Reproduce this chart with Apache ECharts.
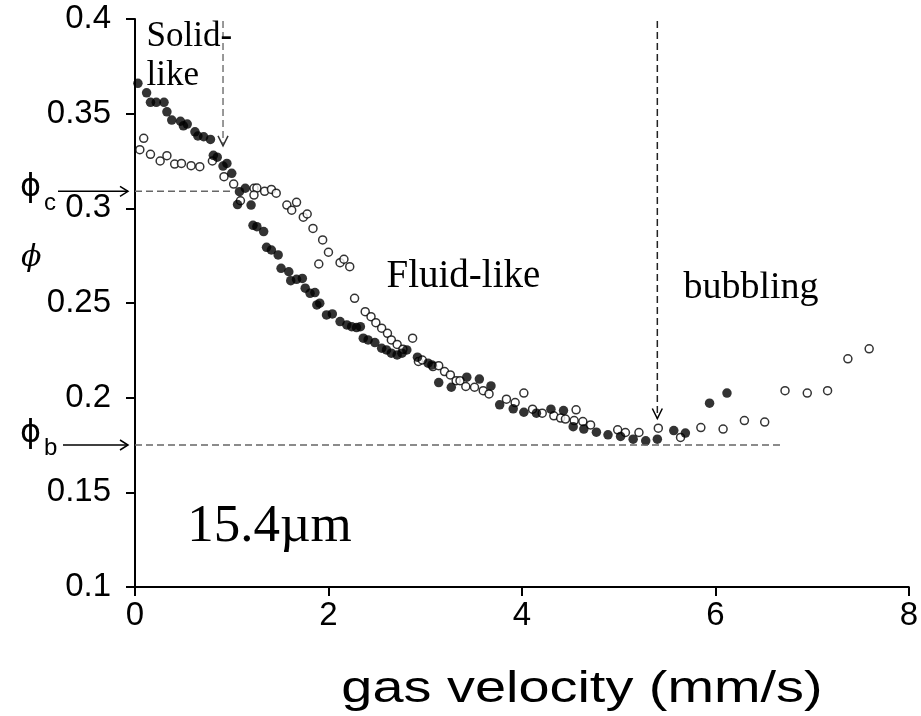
<!DOCTYPE html>
<html><head><meta charset="utf-8">
<script src="https://cdn.jsdelivr.net/npm/echarts/dist/echarts.min.js"></script>
<style>html,body{margin:0;padding:0;background:#fff}#c{width:921px;height:716px}</style>
</head><body><div id="c"></div>
<script>
// ---- data ----
const X_TICKS = [0, 2, 4, 6, 8];
const Y_TICKS = [0.1, 0.15, 0.2, 0.25, 0.3, 0.35, 0.4];

const filledV = [0.03,0.12,0.16,0.22,0.30,0.33,0.38,0.47,0.50,0.54,0.62,0.65,0.71,0.78,0.81,0.85,0.91,0.95,1.00,1.06,1.08,1.14,1.20,1.22,1.26,1.33,1.36,1.41,1.48,1.51,1.59,1.61,1.67,1.73,1.76,1.81,1.86,1.88,1.91,1.98,2.04,2.12,2.19,2.24,2.29,2.33,2.36,2.41,2.48,2.55,2.60,2.65,2.71,2.76,2.81,2.92,3.03,3.07,3.14,3.27,3.43,3.56,3.68,3.77,3.91,4.02,4.15,4.30,4.43,4.53,4.64,4.77,4.89,5.02,5.15,5.28,5.40,5.57,5.69,5.94,6.12];
const filledPhi = [0.366,0.361,0.356,0.356,0.356,0.351,0.3466,0.346,0.3436,0.3445,0.3404,0.3382,0.3378,0.3364,0.328,0.327,0.3223,0.3237,0.3185,0.302,0.3088,0.3106,0.3017,0.291,0.2903,0.2877,0.2794,0.278,0.2754,0.2683,0.2665,0.2618,0.2625,0.263,0.2578,0.2551,0.2555,0.249,0.2499,0.2437,0.2442,0.2402,0.2384,0.2375,0.237,0.2375,0.2314,0.2305,0.2291,0.2261,0.2252,0.2235,0.2226,0.2235,0.2252,0.2214,0.2182,0.2173,0.208,0.2055,0.2108,0.2098,0.2062,0.1962,0.1941,0.1923,0.1918,0.1939,0.1932,0.1847,0.1834,0.1818,0.1804,0.1795,0.1781,0.1772,0.1781,0.1826,0.1813,0.1971,0.2024];

const openV = [0.05,0.09,0.16,0.26,0.33,0.41,0.48,0.58,0.67,0.80,0.92,1.02,1.09,1.23,1.26,1.23,1.34,1.41,1.46,1.57,1.62,1.67,1.74,1.78,1.84,1.90,1.94,2.00,2.12,2.16,2.22,2.27,2.38,2.44,2.49,2.55,2.61,2.65,2.71,2.77,2.87,2.93,2.97,3.08,3.14,3.20,3.26,3.32,3.36,3.42,3.51,3.60,3.66,3.84,3.93,4.02,4.11,4.21,4.33,4.40,4.45,4.54,4.56,4.63,4.71,4.99,5.07,5.21,5.41,5.64,5.85,6.08,6.30,6.51,6.72,6.95,7.16,7.37,7.59];
const openPhi = [0.331,0.337,0.3285,0.325,0.3278,0.3234,0.3237,0.3225,0.322,0.325,0.3167,0.3128,0.304,0.3106,0.3107,0.307,0.309,0.310,0.308,0.3017,0.299,0.3032,0.2953,0.297,0.2894,0.2706,0.2833,0.2768,0.2713,0.2731,0.2692,0.2525,0.2454,0.2428,0.2396,0.2367,0.234,0.2305,0.2281,0.2256,0.2314,0.2191,0.2199,0.2164,0.2169,0.2138,0.212,0.209,0.209,0.2059,0.2055,0.2037,0.202,0.1992,0.1974,0.2024,0.1939,0.1918,0.1904,0.1892,0.1887,0.1879,0.1936,0.1874,0.1856,0.183,0.1816,0.1816,0.1839,0.179,0.1842,0.1834,0.1879,0.1871,0.2037,0.2024,0.2037,0.2205,0.2258];

const PHI_C = 0.309, PHI_C_END = 1.0;
const PHI_B = 0.175, PHI_B_END = 6.69;
const V_SOLID = 0.91, V_SOLID_TIP = 0.333;
const V_BUBBLE = 5.40, V_BUBBLE_TIP = 0.189;
const Y_TOP = 0.399;

const chart = echarts.init(document.getElementById('c'), null, {renderer: 'canvas'});
const SANS = '"Liberation Sans", Arial, Helvetica, sans-serif';
const SERIF = '"Liberation Serif", "Times New Roman", serif';

chart.setOption({
  animation: false,
  backgroundColor: '#fff',
  grid: {left: 135, right: 12, top: 19, bottom: 129, containLabel: false},
  xAxis: {
    type: 'value', min: X_TICKS[0], max: X_TICKS[X_TICKS.length - 1], interval: 2,
    splitLine: {show: false},
    axisLine: {show: true, onZero: false, lineStyle: {color: '#000', width: 2}},
    axisTick: {show: true, length: 9, lineStyle: {color: '#000', width: 2}},
    axisLabel: {color: '#000', fontSize: 33, fontFamily: SANS, margin: 12}
  },
  yAxis: {
    type: 'value', min: Y_TICKS[0], max: Y_TICKS[Y_TICKS.length - 1], interval: 0.05,
    splitLine: {show: false},
    axisLine: {show: true, onZero: false, lineStyle: {color: '#000', width: 2}},
    axisTick: {show: true, length: 9, lineStyle: {color: '#000', width: 2}},
    axisLabel: {color: '#000', fontSize: 33, fontFamily: SANS, margin: 24,
      formatter: v => String(+v.toFixed(2))}
  },
  series: [
    {type: 'scatter', name: 'open', data: openV.map((v, i) => [v, openPhi[i]]),
     symbol: 'circle', symbolSize: 8,
     itemStyle: {color: '#fff', borderColor: '#000', borderWidth: 1.5}},
    {type: 'scatter', name: 'filled', data: filledV.map((v, i) => [v, filledPhi[i]]),
     symbol: 'circle', symbolSize: 9.5,
     itemStyle: {color: '#000'}}
  ]
});

function px(v, p) { return chart.convertToPixel({gridIndex: 0}, [v, p]); }

const g = [];
const dash = {stroke: '#666', lineWidth: 1.5, lineDash: [7, 4]};
let a = px(0, PHI_C), b = px(PHI_C_END, PHI_C);
g.push({type: 'line', shape: {x1: a[0], y1: a[1], x2: b[0], y2: b[1]}, style: dash, z: 5});
a = px(0, PHI_B); b = px(PHI_B_END, PHI_B);
g.push({type: 'line', shape: {x1: a[0], y1: a[1], x2: b[0], y2: b[1]}, style: dash, z: 5});
a = px(V_SOLID, Y_TOP); b = px(V_SOLID, V_SOLID_TIP);
g.push({type: 'line', shape: {x1: a[0], y1: a[1], x2: b[0], y2: b[1]}, style: {stroke: '#777', lineWidth: 1.5, lineDash: [7, 4]}, z: 5});
g.push({type: 'polyline', shape: {points: [[b[0] - 5, b[1] - 10], [b[0], b[1]], [b[0] + 5, b[1] - 10]]}, style: {stroke: '#333', lineWidth: 1.5, fill: null}, z: 5});
a = px(V_BUBBLE, Y_TOP); b = px(V_BUBBLE, V_BUBBLE_TIP);
g.push({type: 'line', shape: {x1: a[0], y1: a[1], x2: b[0], y2: b[1]}, style: {stroke: '#222', lineWidth: 1.5, lineDash: [7, 4]}, z: 5});
g.push({type: 'polyline', shape: {points: [[b[0] - 5, b[1] - 10], [b[0], b[1]], [b[0] + 5, b[1] - 10]]}, style: {stroke: '#000', lineWidth: 1.5, fill: null}, z: 5});

function leftArrow(phi, x0) {
  const y = px(0, phi)[1];
  g.push({type: 'line', shape: {x1: x0, y1: y, x2: 128, y2: y}, style: {stroke: '#000', lineWidth: 1.5}, z: 5});
  g.push({type: 'polyline', shape: {points: [[120, y - 5], [128, y], [120, y + 5]]}, style: {stroke: '#000', lineWidth: 1.5, fill: null}, z: 5});
  return y;
}
const yc = leftArrow(PHI_C, 58);
const yb = leftArrow(PHI_B, 63);
function txt(t, x, y, size, fam, extra, el) {
  g.push(Object.assign({type: 'text', x: x, y: y, z: 6,
    style: Object.assign({text: t, fontSize: size, fontFamily: fam, fill: '#000', align: 'left', verticalAlign: 'middle'}, extra || {})}, el || {}));
}
txt('ϕ', 20, yc - 4, 32, '"DejaVu Sans", sans-serif');
txt('c', 44, yc + 12, 24, SANS);
txt('ϕ', 20, yb - 11, 32, '"DejaVu Sans", sans-serif');
txt('b', 44, yb + 3, 24, SANS);
// y-axis name
txt('ϕ', 21, 258, 30, '"DejaVu Serif", serif', {fontStyle: 'italic'});

let p = px(0.12, 0.37); txt('Solid-', p[0], 37, 35, SERIF);
txt('like', p[0], 76, 35, SERIF);
p = px(2.6, 0.264); txt('Fluid-like', p[0], p[1], 39, SERIF);
p = px(5.67, 0.258); txt('bubbling', p[0], p[1], 38, SERIF);
p = px(0.54, 0.1314); txt('15.4µm', p[0], p[1], 53, SERIF);
// x-axis title
txt('gas velocity (mm/s)', 582, 690, 44, SANS, {align: 'center'}, {scaleX: 1.27, originX: 0, originY: 0});

chart.setOption({graphic: g});
</script></body></html>
